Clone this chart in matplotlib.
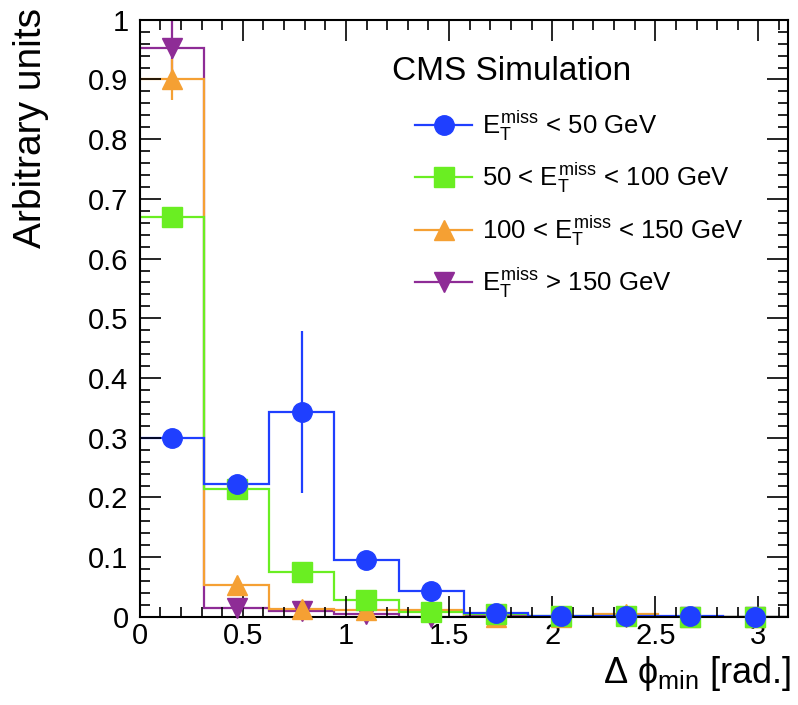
import numpy as np
import matplotlib
matplotlib.use("Agg")
import matplotlib.pyplot as plt
from matplotlib.ticker import MultipleLocator

plt.rcParams['font.family'] = ['Liberation Sans', 'DejaVu Sans']
plt.rcParams['mathtext.fontset'] = 'custom'
plt.rcParams['mathtext.rm'] = 'Liberation Sans'
plt.rcParams['mathtext.it'] = 'Liberation Sans'
plt.rcParams['mathtext.bf'] = 'Liberation Sans:bold'

# 10 bins over [0, pi]
edges = np.linspace(0, np.pi, 11)
centers = 0.5 * (edges[:-1] + edges[1:])

met_lt50 = [0.300, 0.223, 0.343, 0.095, 0.043, 0.006, 0.002, 0.001, 0.001, 0.0]
met_lt50_err = [0.0, 0.0, 0.135, 0.0, 0.0, 0.0, 0.0, 0.0, 0.0, 0.0]
met_50_100 = [0.670, 0.214, 0.075, 0.028, 0.008, 0.004, 0.002, 0.001, 0.0, 0.0]
met_50_100_err = [0.0] * 10
met_100_150 = [0.900, 0.053, 0.013, 0.012, 0.012, 0.0, 0.0, 0.004, 0.0, 0.0]
met_100_150_err = [0.035, 0.0, 0.0, 0.0, 0.0, 0.0, 0.0, 0.0, 0.0, 0.0]
met_gt150 = [0.952, 0.015, 0.010, 0.004, 0.0, 0.003, 0.0, 0.0, 0.0, 0.0]
met_gt150_err = [0.055, 0.0, 0.0, 0.0, 0.0, 0.0, 0.0, 0.0, 0.0, 0.0]

series = [
    (met_gt150, met_gt150_err, '#8e2c96', 'v', r'$E_{\rm T}^{\rm miss}$ > 150 GeV'),
    (met_100_150, met_100_150_err, '#f5a033', '^', r'100 < $E_{\rm T}^{\rm miss}$ < 150 GeV'),
    (met_50_100, met_50_100_err, '#6aee22', 's', r'50 < $E_{\rm T}^{\rm miss}$ < 100 GeV'),
    (met_lt50, met_lt50_err, '#1f3fff', 'o', r'$E_{\rm T}^{\rm miss}$ < 50 GeV'),
]

fig = plt.figure(figsize=(7.98, 7.05), dpi=100)
ax = fig.add_axes([0.175, 0.125, 0.812, 0.847])

for vals, errs, col, mk, lab in series:
    ax.stairs(vals, edges, color=col, lw=1.6, baseline=None)
    ax.errorbar(centers, vals, yerr=errs, fmt='none', ecolor=col, elinewidth=1.6)
    ax.plot(centers, vals, ls='none', marker=mk, ms=14, color=col,
            mec=col, clip_on=False, zorder=4)

# legend (no frame), drawn in order of the reference
order = [series[3], series[2], series[1], series[0]]
leg_h = [plt.Line2D([], [], color=s[2], marker=s[3], ms=14, lw=1.6) for s in order]
ax.legend(leg_h, [s[4] for s in order], loc='upper left',
          bbox_to_anchor=(0.39, 0.89), frameon=False, fontsize=18.5,
          handlelength=2.2, labelspacing=0.72, handletextpad=0.4)
ax.text(0.39, 0.887, 'CMS Simulation', transform=ax.transAxes,
        fontsize=24, ha='left', va='bottom')

ax.set_xlim(0, np.pi)
ax.set_ylim(0, 1)
ax.xaxis.set_minor_locator(MultipleLocator(0.1))
ax.yaxis.set_minor_locator(MultipleLocator(0.02))
ax.set_xticks([0, 0.5, 1, 1.5, 2, 2.5, 3])
ax.set_xticklabels(['0', '0.5', '1', '1.5', '2', '2.5', '3'])
ax.set_yticks(np.arange(0, 1.01, 0.1))
ax.set_yticklabels(['0', '0.1', '0.2', '0.3', '0.4', '0.5', '0.6', '0.7', '0.8', '0.9', '1'])
ax.tick_params(which='both', direction='in', top=True, right=True, labelsize=21)
ax.tick_params(which='major', length=15, width=1.2)
ax.tick_params(axis='x', which='major', pad=4)
ax.tick_params(axis='y', which='major', pad=8)
ax.tick_params(which='minor', length=7, width=1.2)
for sp in ax.spines.values():
    sp.set_linewidth(1.5)

ax.set_ylabel('Arbitrary units', fontsize=28, loc='top')
ax.yaxis.set_label_coords(-0.14, 1.02)
ax.set_xlabel(r'$\Delta\ \phi_{\rm min}$ [rad.]', fontsize=26, loc='right')
ax.xaxis.set_label_coords(1.005, -0.062)

fig.savefig('out.png', dpi=100)
